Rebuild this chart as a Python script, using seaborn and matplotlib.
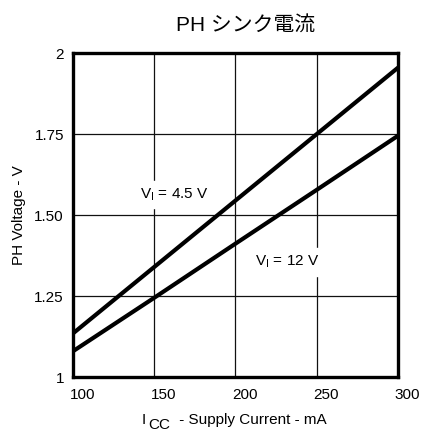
import matplotlib
matplotlib.use("Agg")
import matplotlib.pyplot as plt
import matplotlib.transforms as mtransforms
import seaborn as sns
import pandas as pd

current_ma = [100, 150, 200, 250, 300]
ph_v_45 = [1.135, 1.34, 1.545, 1.75, 1.955]
ph_v_12 = [1.08, 1.245, 1.412, 1.578, 1.745]
series_names = ["V$_\\mathrm{I}$ = 4.5 V", "V$_\\mathrm{I}$ = 12 V"]
x_ticks = [100, 150, 200, 250, 300]
y_ticks = [1, 1.25, 1.5, 1.75, 2]
y_tick_labels = ["1", "1.25", "1.50", "1.75", "2"]

df = pd.DataFrame({
    "I": current_ma * 2,
    "V": ph_v_45 + ph_v_12,
    "series": [series_names[0]] * len(current_ma) + [series_names[1]] * len(current_ma),
})

sns.set_theme(style="white")
plt.rcParams["font.family"] = ["Liberation Sans", "Noto Sans CJK JP", "DejaVu Sans"]
plt.rcParams["mathtext.fontset"] = "custom"
plt.rcParams["mathtext.rm"] = "Liberation Sans"

fig = plt.figure(figsize=(4.22, 4.32), dpi=100)
ax = fig.add_axes([0.173, 0.127, 0.770, 0.750])

sns.lineplot(data=df, x="I", y="V", hue="series", palette=["black", "black"],
             linewidth=3.0, legend=False, ax=ax)

ax.set_xlim(100, 300)
ax.set_ylim(1, 2)
ax.set_xticks(x_ticks)
ax.set_yticks(y_ticks)
ax.set_yticklabels(y_tick_labels)
ax.grid(True, color="#111111", linewidth=0.9)
for s in ax.spines.values():
    s.set_color("black")
    s.set_linewidth(2.4)
ax.tick_params(axis="both", length=0, labelsize=11, colors="black")
ax.tick_params(axis="x", pad=7.5)
ax.tick_params(axis="y", pad=6.5)
shift = mtransforms.ScaledTranslation(-0.03, 0, fig.dpi_scale_trans)
for lab in ax.get_xticklabels():
    lab.set_ha("left")
    lab.set_transform(lab.get_transform() + shift)

ax.set_xlabel("")
ax.set_ylabel("PH Voltage - V", fontsize=11, labelpad=6, color="black")

fig.text(246 / 422, 1 - 25 / 432, "PH シンク電流", ha="center", va="center",
         fontsize=15, color="black",
         family=["Liberation Sans", "Noto Sans CJK JP"])

# x label: "I" + "CC" (lowered, same size) + rest
t1 = fig.text(142 / 422, 1 - 424 / 432, "I", ha="left", va="baseline",
              fontsize=11, color="black")
ax.annotate("CC", xy=(1, 0), xycoords=t1, xytext=(1.5, -3.6),
            textcoords="offset points", ha="left", va="bottom",
            fontsize=11, color="black", annotation_clip=False)
ax.annotate(" - Supply Current - mA", xy=(1, 0), xycoords=t1, xytext=(20.5, 0),
            textcoords="offset points", ha="left", va="bottom",
            fontsize=11, color="black", annotation_clip=False)

ax.text(141, 1.5525, series_names[0], ha="left", va="baseline", fontsize=11,
        backgroundcolor="white", color="black")
ax.text(212, 1.344, series_names[1], ha="left", va="baseline", fontsize=11,
        backgroundcolor="white", color="black")

fig.savefig("out.png", dpi=100)
